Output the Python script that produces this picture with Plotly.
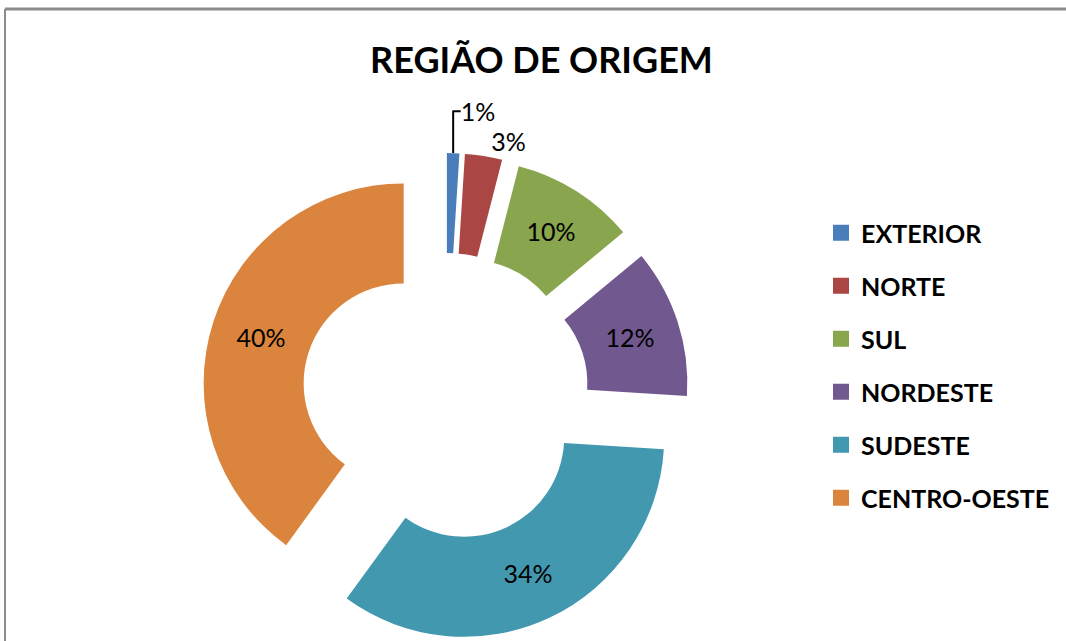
import plotly.graph_objects as go

categories = ["EXTERIOR", "NORTE", "SUL", "NORDESTE", "SUDESTE", "CENTRO-OESTE"]
values = [1, 3, 10, 12, 34, 40]
colors = ["#4A7EBB", "#AA4643", "#89A54E", "#71588F", "#4198AF", "#DB843D"]
text_positions = ["outside", "outside", "inside", "inside", "inside", "inside"]
title_text = "REGIÃO DE ORIGEM"

W, H = 1066, 641
FONT = "Lato"

fig = go.Figure()

fig.add_trace(go.Pie(
    labels=categories,
    values=values,
    sort=False,
    direction="clockwise",
    rotation=0,
    hole=0.5,
    pull=[0.22] * len(values),
    marker=dict(colors=colors, line=dict(width=0)),
    texttemplate="%{value}%",
    textposition=text_positions,
    insidetextorientation="horizontal",
    textfont=dict(family=FONT, size=25, color="black"),
    domain=dict(x=[(445.5 - 244) / W, (445.5 + 244) / W],
                y=[1 - (397 + 244) / H, 1 - (397 - 244) / H]),
    showlegend=False,
    hoverinfo="label+percent",
))

# legend entries (one group per category so the spacing can be set)
for name, col in zip(categories, colors):
    fig.add_trace(go.Scatter(
        x=[None], y=[None], mode="markers", name=name,
        legendgroup=name,
        marker=dict(symbol="square", size=17, color=col),
        showlegend=True,
    ))

fig.update_layout(
    width=W, height=H,
    margin=dict(l=0, r=0, t=0, b=0, autoexpand=False),
    paper_bgcolor="white",
    plot_bgcolor="white",
    title=dict(text=title_text, x=541.5 / W, xanchor="center", y=1 - 60 / H, yanchor="middle",
               font=dict(family=FONT, size=36, color="black", weight="bold")),
    xaxis=dict(visible=False),
    yaxis=dict(visible=False),
    legend=dict(
        x=821 / W, xanchor="left",
        y=1 - 210 / H, yanchor="top",
        font=dict(family=FONT, size=25, color="black", weight="bold"),
        tracegroupgap=17.5,
        bgcolor="rgba(0,0,0,0)",
    ),
    shapes=[
        dict(type="line", xref="paper", yref="paper", x0=5 / W, x1=1, y0=1 - 9 / H, y1=1 - 9 / H,
             line=dict(color="#8C8C8C", width=3)),
        dict(type="line", xref="paper", yref="paper", x0=5 / W, x1=5 / W, y0=0, y1=1 - 9 / H,
             line=dict(color="#8C8C8C", width=2)),
    ],
)

fig.write_html("out.html", config={"displayModeBar": False},
               post_script="document.body.style.margin='0';")
